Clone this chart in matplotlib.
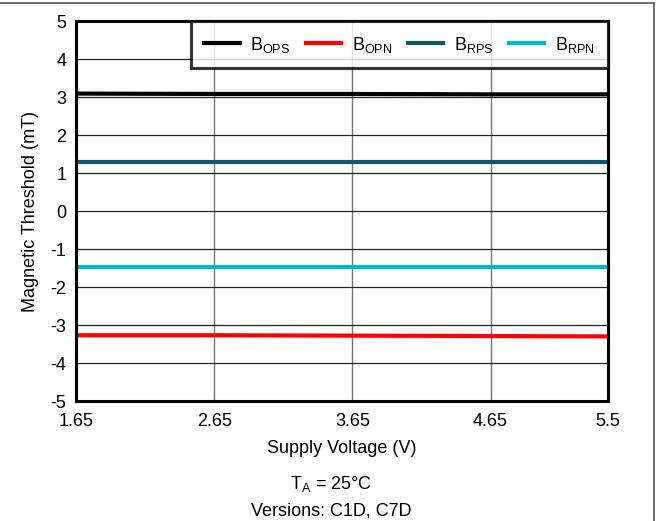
import matplotlib.pyplot as plt
from matplotlib.lines import Line2D

plt.rcParams['font.family'] = ['Liberation Sans', 'DejaVu Sans']
plt.rcParams['axes.unicode_minus'] = False

voltage = [1.65, 2.65, 3.65, 4.65, 5.5]
b_ops = [3.09, 3.08, 3.08, 3.07, 3.07]
b_opn = [-3.27, -3.27, -3.28, -3.29, -3.30]
b_rps = [1.29, 1.29, 1.29, 1.29, 1.29]
b_rpn = [-1.47, -1.47, -1.47, -1.47, -1.47]

x_ticks = [1.65, 2.65, 3.65, 4.65, 5.5]
x_tick_labels = ['1.65', '2.65', '3.65', '4.65', '5.5']
y_ticks = list(range(-5, 6))

fig = plt.figure(figsize=(6.62, 5.21), dpi=100)
ax = fig.add_axes([76 / 662, 1 - 401 / 521, (608 - 76) / 662, (401 - 21) / 521])

ax.plot(voltage, b_ops, color='black', lw=3, label=r'B$_{\mathregular{OPS}}$')
ax.plot(voltage, b_opn, color='#ff0000', lw=3, label=r'B$_{\mathregular{OPN}}$')
ax.plot(voltage, b_rps, color='#135766', lw=3, label=r'B$_{\mathregular{RPS}}$')
ax.plot(voltage, b_rpn, color='#00b7cc', lw=3, label=r'B$_{\mathregular{RPN}}$')

ax.set_xlim(1.65, 5.5)
ax.set_ylim(-5, 5)
ax.set_xticks(x_ticks)
ax.set_xticklabels(x_tick_labels)
ax.set_yticks(y_ticks)
ax.tick_params(axis='x', length=0, labelsize=13, pad=9)
ax.tick_params(axis='y', length=0, labelsize=13, pad=7)
ax.grid(True, axis='y', color='#222222', lw=0.9)
ax.grid(True, axis='x', color='#777777', lw=1.0)
ax.set_axisbelow(True)
for s in ax.spines.values():
    s.set_linewidth(2.2)
    s.set_color('black')

ax.set_xlabel('Supply Voltage (V)', fontsize=13, labelpad=7)
ax.set_ylabel('Magnetic Threshold (mT)', fontsize=13, labelpad=8)

leg = ax.legend(loc='upper right', ncol=4, fontsize=13, frameon=True, fancybox=False,
                borderaxespad=0, handlelength=1.95, columnspacing=0.85, handletextpad=0.6,
                borderpad=0.75)
leg.get_frame().set_edgecolor('black')
leg.get_frame().set_linewidth(2.2)

fig.text(0.5, 1 - 484 / 521, r'T$_{\mathregular{A}}$ = 25°C', ha='center', va='center', fontsize=13)
fig.text(0.5, 1 - 511 / 521, 'Versions: C1D, C7D', ha='center', va='center', fontsize=13)

# figure frame lines (top and right)
fig.add_artist(Line2D([0, 653.5 / 662], [1 - 3 / 521, 1 - 3 / 521], color='#555555', lw=1.2))
fig.add_artist(Line2D([653.5 / 662, 653.5 / 662], [0, 1 - 3 / 521], color='#555555', lw=1.2))

fig.savefig('out.png', dpi=100)
